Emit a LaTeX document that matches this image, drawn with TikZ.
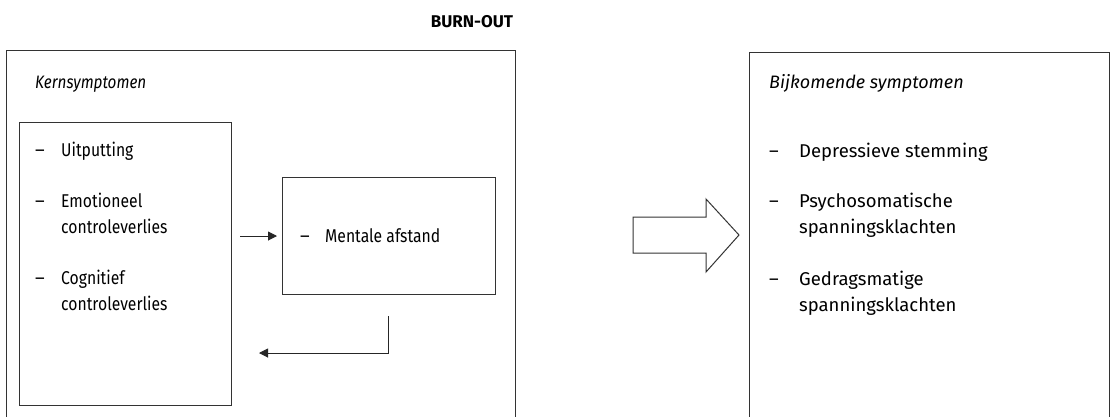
\documentclass[tikz,border=0pt]{standalone}
\usepackage{fontspec}
\setmainfont{Fira Sans}
\usetikzlibrary{arrows.meta}
\newcommand{\narrowtxt}[1]{\scalebox{0.85}[1]{#1}}
\begin{document}
\begin{tikzpicture}[x=1pt,y=-1pt,
  box/.style={draw=black!80, line width=1pt, inner sep=0pt},
  lbl/.style={anchor=base west, inner sep=0pt, font=\fontsize{18.5}{26}\selectfont},
  ttl/.style={lbl, font=\fontsize{18}{26}\selectfont\itshape},
  conn/.style={draw=black!85, line width=1pt, -{Triangle[length=9pt,width=9pt]}},
  bigarrow/.style={draw=black!80, line width=1pt, fill=white}]
\useasboundingbox (0,0) rectangle (1114,416);
\fill[white] (0,0) rectangle (1114,416);

% title
\node[anchor=base, inner sep=0pt, font=\fontsize{17}{20}\selectfont\bfseries] (title) at (472,27) {BURN-OUT};

% outer boxes (cut off at the bottom edge)
\draw[box] (6,440) -- (6,50) -- (515,50) -- (515,440);
\draw[box] (749,440) -- (749,52) -- (1109,52) -- (1109,440);
\coordinate (outerL) at (6,50);
\coordinate (outerR) at (749,52);

% inner boxes
\node[box, minimum width=212pt, minimum height=283pt, anchor=north west] (core) at (19,122) {};
\node[box, minimum width=213pt, minimum height=117pt, anchor=north west] (mental) at (282,177) {};

% left texts
\node[ttl] (kern) at (35,88) {\narrowtxt{Kernsymptomen}};
\node[lbl] (d1) at (35,156) {–};
\node[lbl] (t1) at (61,156) {\narrowtxt{Uitputting}};
\node[lbl] (d2) at (35,207) {–};
\node[lbl] (t2a) at (61,207) {\narrowtxt{Emotioneel}};
\node[lbl] (t2b) at (61,233) {\narrowtxt{controleverlies}};
\node[lbl] (d3) at (35,284) {–};
\node[lbl] (t3a) at (61,284) {\narrowtxt{Cognitief}};
\node[lbl] (t3b) at (61,310) {\narrowtxt{controleverlies}};
\node[lbl] (d4) at (300,242) {–};
\node[lbl] (t4) at (325,242) {\narrowtxt{Mentale afstand}};

% right texts
\node[ttl] (bijk) at (769,88) {Bijkomende symptomen};
\node[lbl] (e1) at (769,157) {–};
\node[lbl] (u1) at (799,157) {Depressieve stemming};
\node[lbl] (e2) at (769,207) {–};
\node[lbl] (u2a) at (799,207) {Psychosomatische};
\node[lbl] (u2b) at (799,233) {spanningsklachten};
\node[lbl] (e3) at (769,285) {–};
\node[lbl] (u3a) at (799,285) {Gedragsmatige};
\node[lbl] (u3b) at (799,311) {spanningsklachten};

% connectors
\coordinate (a1s) at (240,236);
\coordinate (a1e) at (277,236);
\draw[conn] (a1s) -- (a1e);
\coordinate (a2s) at (388,316);
\coordinate (a2k) at (388,353);
\coordinate (a2e) at (259,353);
\draw[conn] (a2s) -- (a2k) -- (a2e);

% big block arrow
\draw[bigarrow] (633,217) -- (706,217) -- (706,199) -- (739,235) -- (706,272) -- (706,253) -- (633,253) -- cycle;
\end{tikzpicture}
\end{document}
